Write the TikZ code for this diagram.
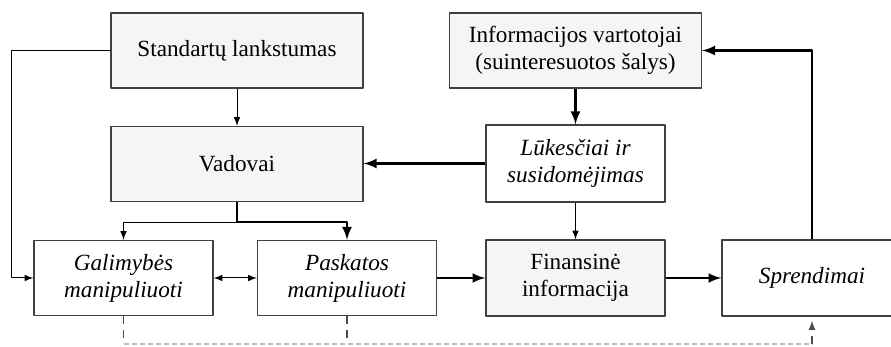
\documentclass[tikz,border=0pt]{standalone}
\usepackage{fontspec}
\setmainfont{Liberation Serif}
\begin{document}
\begin{tikzpicture}[x=0.5pt, y=-0.5pt, font=\fontsize{11.6}{13.5}\selectfont, line join=round, >=latex,
 box/.style={draw=black!75, line width=0.7pt, fill=white, align=center, inner sep=2pt},
 bigbox/.style={box, minimum width=126pt, minimum height=37.5pt},
 smallbox/.style={box, minimum width=89.5pt, minimum height=37.5pt},
 shaded/.style={fill=black!4},
 thinline/.style={line width=0.5pt},
 thickline/.style={line width=1.2pt},
 dashline/.style={dashed, dash pattern=on 4pt off 3pt, line width=0.6pt, black!70}]
 \useasboundingbox (0,0) rectangle (891,347);
 \clip (0,0) rectangle (891,347);
 % top row
 \node[bigbox, shaded] (std) at (237,50.5) {Standartų lankstumas};
 \node[bigbox, shaded] (info) at (575.5,50.5) {Informacijos vartotojai\\(suinteresuotos šalys)};
 % middle row
 \node[bigbox, shaded] (vad) at (237,164) {Vadovai};
 \node[smallbox, minimum height=38.5pt] (luk) at (575.5,163.5) {\itshape Lūkesčiai ir\\\itshape susidomėjimas};
 % bottom row
 \node[smallbox] (gal) at (123.5,278) {\itshape Galimybės\\\itshape manipuliuoti};
 \node[smallbox] (pask) at (347,278) {\itshape Paskatos\\\itshape manipuliuoti};
 \node[smallbox, shaded, minimum height=38pt] (fin) at (575.5,278) {Finansinė\\informacija};
 \node[smallbox, minimum width=90pt, minimum height=38pt] (spr) at (812,278) {\itshape Sprendimai};
 % connectors
 \draw[thinline,->] (std.west) -- ++(-99,0) |- (gal.west);
 \draw[thinline,->] (std.south) -- (vad.north);
 \draw[thickline,->] (info.south) -- (luk.north);
 \draw[thickline,->] (luk.west) -- (vad.east |- luk.west);
 \draw[thinline,->] (luk.south) -- (fin.north);
 \draw[thickline] (vad.south) -- ++(0,20) coordinate (split);
 \draw[thinline,->] (split) -| (gal.north);
 \draw[thickline,->] (split) -| (pask.north);
 \draw[thinline,<->] (gal.east) -- (pask.west);
 \draw[thickline,->] (pask.east) -- (fin.west);
 \draw[thickline,->] (fin.east) -- (spr.west);
 \draw[thickline,->] (spr.north) |- (info.east);
 % dashed feedback
 \coordinate (base) at (0,344);
 \draw[dashline] (gal.south) -- (gal.south |- base);
 \draw[dashline] (pask.south) -- (pask.south |- base);
 \draw[dashline, black!25, dash pattern=on 2.5pt off 1.5pt] (gal.south |- base) -- (spr.south |- base);
 \draw[dashline,->] (spr.south |- base) -- ([yshift=-2pt]spr.south);
\end{tikzpicture}
\end{document}
